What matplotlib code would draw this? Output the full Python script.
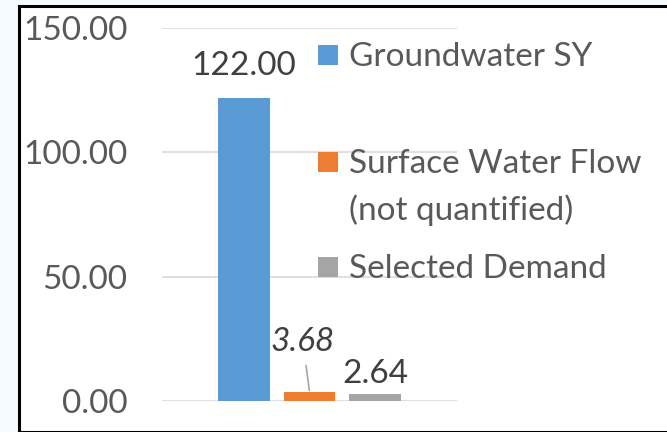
import matplotlib.pyplot as plt
from matplotlib.patches import Rectangle

# water supply vs demand
series = ['Groundwater SY', 'Surface Water Flow\n(not quantified)', 'Selected Demand']
values = [122.00, 3.68, 2.64]
colors = ['#5B9BD5', '#ED7D31', '#A5A5A5']
yticks = [0, 50, 100, 150]

plt.rcParams['font.family'] = ['Lato', 'DejaVu Sans']

W, H = 667, 432
fig = plt.figure(figsize=(W / 100, H / 100), dpi=100, facecolor='#F4FAFE')

# white chart box with black frame
frame = Rectangle((19 / W, 0.5 / H), 1.0, (H - 6) / H, transform=fig.transFigure,
                  facecolor='white', edgecolor='black', linewidth=2.2, zorder=-5)
fig.patches.append(frame)

ax = fig.add_axes([162 / W, 1 - 401 / H, (457 - 162) / W, (401 - 28) / H])
ax.set_facecolor('none')

bar_w = 0.176
step = 0.222
offsets = [-step, 0, step]
for off, v, c in zip(offsets, values, colors):
    ax.bar(off, v, width=bar_w, color=c, zorder=3)

ax.set_xlim(-0.5, 0.5)
ax.set_ylim(0, 150)
ax.set_yticks(yticks)
ax.set_yticklabels([f'{t:.2f}' for t in yticks])
ax.set_xticks([])
ax.tick_params(axis='y', length=0, pad=25, labelsize=24, labelcolor='#595959')
ax.grid(axis='y', color='#D9D9D9', linewidth=1.2, zorder=0)
for s in ax.spines.values():
    s.set_visible(False)

# value labels
ax.annotate(f'{values[0]:.2f}', xy=(offsets[0], values[0]), xytext=(0, 23),
            textcoords='offset points', ha='center', va='center',
            fontsize=24, color='#404040')
ax.annotate(f'{values[1]:.2f}', xy=(offsets[1], values[1]), xytext=(-0.022, 23.7),
            textcoords='data', ha='center', va='center', fontsize=24,
            style='italic', color='#404040',
            arrowprops=dict(arrowstyle='-', color='#A6A6A6', lw=1.2,
                            shrinkA=4, shrinkB=1))
ax.annotate(f'{values[2]:.2f}', xy=(offsets[2], values[2]), xytext=(0, 15),
            textcoords='offset points', ha='center', va='center',
            fontsize=24, color='#404040')

# legend on the right (marker sits on the first line of each entry)
legend_y = [55, 162, 267]
for lab, c, y in zip(series, colors, legend_y):
    fig.patches.append(Rectangle((318 / W, 1 - (y + 10) / H), 20 / W, 20 / H,
                                 transform=fig.transFigure, facecolor=c,
                                 edgecolor='none', zorder=5))
    fig.text(349 / W, 1 - (y - 13) / H, lab, ha='left', va='top', fontsize=24,
             color='#595959', linespacing=1.6, zorder=5)

fig.savefig('out.png', dpi=100, facecolor=fig.get_facecolor())
